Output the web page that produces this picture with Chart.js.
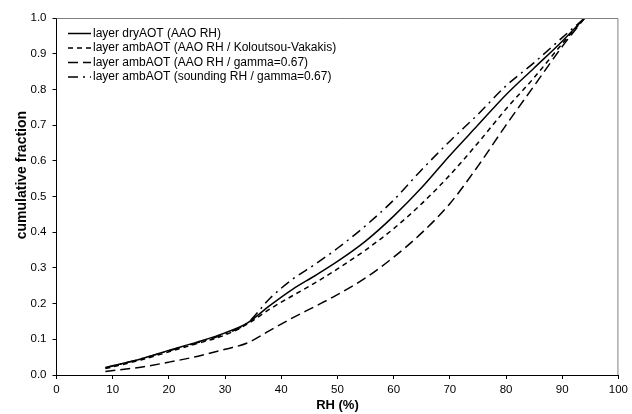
<!DOCTYPE html>
<html>
<head>
<meta charset="utf-8">
<script src="https://cdn.jsdelivr.net/npm/chart.js@4/dist/chart.umd.min.js"></script>
<style>
html,body{margin:0;padding:0;background:#fff;}
#wrap{width:632px;height:414px;position:relative;}
</style>
</head>
<body>
<div id="wrap"><canvas id="c" width="632" height="414"></canvas></div>
<script>
const rh = [8.7, 15, 20, 25, 30, 34, 38, 42, 46, 50, 55, 60, 65, 70, 75, 80, 85, 90, 94];
const dryAAO = [0.021, 0.045, 0.069, 0.092, 0.118, 0.146, 0.195, 0.240, 0.278, 0.318, 0.375, 0.445, 0.525, 0.615, 0.700, 0.785, 0.860, 0.935, 1.0];
const ambKolou = [0.018, 0.042, 0.065, 0.088, 0.112, 0.143, 0.185, 0.222, 0.258, 0.297, 0.350, 0.410, 0.480, 0.560, 0.650, 0.745, 0.833, 0.928, 1.0];
const ambGammaAAO = [0.010, 0.022, 0.036, 0.052, 0.072, 0.090, 0.125, 0.160, 0.192, 0.225, 0.272, 0.330, 0.398, 0.480, 0.585, 0.700, 0.810, 0.920, 1.0];
const ambGammaSounding = [0.020, 0.045, 0.068, 0.090, 0.115, 0.146, 0.215, 0.268, 0.310, 0.355, 0.418, 0.490, 0.575, 0.655, 0.730, 0.810, 0.875, 0.945, 1.0];
const seriesLabels = [
  'layer dryAOT (AAO RH)',
  'layer ambAOT (AAO RH / Koloutsou-Vakakis)',
  'layer ambAOT (AAO RH / gamma=0.67)',
  'layer ambAOT (sounding RH / gamma=0.67)'
];
const yTicks = [0, 0.1, 0.2, 0.3, 0.4, 0.5, 0.6, 0.7, 0.8, 0.9, 1.0];
const xTicks = [0, 10, 20, 30, 40, 50, 60, 70, 80, 90, 100];

const FONT = '"Liberation Sans", Arial, sans-serif';
const pts = vals => rh.map((x, i) => ({x: x, y: vals[i]}));
const dashes = [[], [5, 4], [10, 5], [10, 5, 2, 5]];
const seriesVals = [dryAAO, ambKolou, ambGammaAAO, ambGammaSounding];

const datasets = seriesVals.map((v, i) => ({
  label: seriesLabels[i],
  data: pts(v),
  borderColor: '#000',
  borderWidth: 1.5,
  borderDash: dashes[i],
  pointRadius: 0,
  fill: false,
  cubicInterpolationMode: 'monotone',
  tension: 0.3
}));

const boxPlugin = {
  id: 'boxPlugin',
  afterDraw(chart) {
    const {ctx, chartArea: a} = chart;
    ctx.save();
    ctx.strokeStyle = '#808080';
    ctx.lineWidth = 1;
    ctx.beginPath();
    ctx.moveTo(a.left, a.top + 0.5);
    ctx.lineTo(a.right - 0.5, a.top + 0.5);
    ctx.lineTo(a.right - 0.5, a.bottom);
    ctx.stroke();
    // legend
    ctx.font = '12px ' + FONT;
    ctx.textBaseline = 'middle';
    ctx.fillStyle = '#000';
    chart.data.datasets.forEach((ds, i) => {
      const y = 33.5 + i * 14.5;
      ctx.strokeStyle = '#000';
      ctx.lineWidth = 1.5;
      ctx.setLineDash(ds.borderDash || []);
      ctx.beginPath();
      ctx.moveTo(68, y);
      ctx.lineTo(91, y);
      ctx.stroke();
      ctx.setLineDash([]);
      ctx.fillText(ds.label, 93, y);
    });
    ctx.restore();
  }
};

new Chart(document.getElementById('c'), {
  type: 'line',
  data: {datasets: datasets},
  plugins: [boxPlugin],
  options: {
    responsive: false,
    animation: false,
    devicePixelRatio: 1,
    layout: {padding: {left: 0, right: 9, top: 18, bottom: 0}},
    plugins: {legend: {display: false}, tooltip: {enabled: false}},
    scales: {
      x: {
        type: 'linear',
        min: 0, max: 100,
        afterBuildTicks: s => { s.ticks = xTicks.map(v => ({value: v})); },
        afterFit: s => { s.height = 39; },
        grid: {drawOnChartArea: false, drawTicks: true, tickLength: 4, tickColor: '#000', color: '#000'},
        border: {display: true, color: '#000', width: 1},
        ticks: {color: '#000', font: {family: FONT, size: 11.5}, padding: 4, maxRotation: 0, autoSkip: false,
          callback: v => String(v)},
        title: {display: true, text: 'RH (%)', color: '#000', font: {family: FONT, size: 13, weight: 'bold'}, padding: {top: 0, bottom: 0.5}}
      },
      y: {
        type: 'linear',
        min: 0, max: 1,
        afterBuildTicks: s => { s.ticks = yTicks.map(v => ({value: v})); },
        afterFit: s => { s.width = 56.5; },
        grid: {drawOnChartArea: false, drawTicks: true, tickLength: 4, tickColor: '#000', color: '#000'},
        border: {display: true, color: '#000', width: 1},
        ticks: {color: '#000', font: {family: FONT, size: 11.5}, padding: 6, autoSkip: false,
          callback: v => Number(v).toFixed(1)},
        title: {display: true, text: '           cumulative fraction', color: '#000', font: {family: FONT, size: 14, weight: 'bold'}, padding: {top: 13.6, bottom: 0}}
      }
    }
  }
});
</script>
</body>
</html>
